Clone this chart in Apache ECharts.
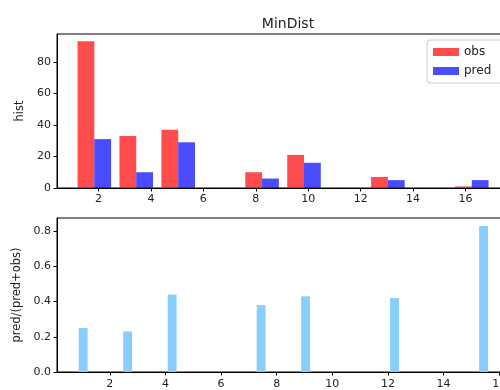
<!DOCTYPE html>
<html><head><meta charset="utf-8">
<script src="https://cdn.jsdelivr.net/npm/echarts@6/dist/echarts.min.js"></script>
<style>html,body{margin:0;padding:0;background:#fff}#c{width:500px;height:390px}</style>
</head><body><div id="c"></div>
<script>
// Data
var binEdges = [1.04, 2.64, 4.24, 5.84, 7.44, 9.04, 10.64, 12.24, 13.84, 15.44];
var binWidth = 1.6;
var obsCounts = [93, 33, 37, 0, 10, 21, 0, 7, 0, 1];
var predCounts = [31, 10, 29, 0, 6, 16, 0, 5, 0, 5];
var ratioValues = [0.25, 0.23, 0.44, null, 0.38, 0.43, null, 0.42, null, 0.83];
var xTicks = [2, 4, 6, 8, 10, 12, 14, 16];
var histTicks = [0, 20, 40, 60, 80];
var ratioTicks = [0, 0.2, 0.4, 0.6, 0.8];

var obsData = [], predData = [], ratioData = [];
binEdges.forEach(function (e, i) {
  obsData.push([e + 0.1 * binWidth + 0.2 * binWidth, obsCounts[i]]);
  predData.push([e + 0.5 * binWidth + 0.2 * binWidth, predCounts[i]]);
  if (ratioValues[i] != null) ratioData.push([e, ratioValues[i]]);
});

var font = 'DejaVu Sans';
var txt = '#222';
function xAx(grid, min, max, margin) {
  return {
    type: 'value', gridIndex: grid, min: min, max: max,
    splitLine: { show: false },
    axisLine: { show: true, onZero: false, lineStyle: { color: '#000', width: 1 } },
    axisTick: { show: true, length: 3.5, customValues: xTicks, lineStyle: { color: '#000' } },
    axisLabel: { customValues: xTicks, fontFamily: font, fontSize: 11, color: txt, margin: margin }
  };
}
function yAx(grid, max, ticks, name, gap, fmt) {
  return {
    type: 'value', gridIndex: grid, min: 0, max: max,
    name: name, nameLocation: 'middle', nameRotate: 90, nameGap: gap,
    nameTextStyle: { fontFamily: font, fontSize: 11.5, color: txt },
    splitLine: { show: false },
    axisLine: { show: true, lineStyle: { color: '#000', width: 1 } },
    axisTick: { show: true, length: 3.5, customValues: ticks, lineStyle: { color: '#000' } },
    axisLabel: { customValues: ticks, fontFamily: font, fontSize: 11, color: txt, margin: 6, formatter: fmt }
  };
}

var chart = echarts.init(document.getElementById('c'), null, { renderer: 'canvas' });
chart.setOption({
  animation: false,
  backgroundColor: '#fff',
  title: {
    text: 'MinDist', left: 283, top: 12, textAlign: 'center',
    textStyle: { fontFamily: font, fontSize: 14, fontWeight: 'normal', color: txt }
  },
  legend: {
    orient: 'vertical', left: 427, top: 40,
    padding: [6, 16, 6, 6], itemGap: 7,
    itemWidth: 26, itemHeight: 8,
    borderColor: '#ccc', borderWidth: 1, borderRadius: 3,
    backgroundColor: 'rgba(255,255,255,0.8)',
    textStyle: { fontFamily: font, fontSize: 12, color: txt },
    data: [{ name: 'obs', icon: 'rect' }, { name: 'pred', icon: 'rect' }]
  },
  grid: [
    { left: 57, top: 34, width: 452, height: 154, show: true, borderColor: '#000', borderWidth: 1, outerBoundsMode: 'none' },
    { left: 57, top: 218, width: 450.5, height: 154, show: true, borderColor: '#000', borderWidth: 1, outerBoundsMode: 'none' }
  ],
  xAxis: [xAx(0, 0.416, 17.66, 6), xAx(1, 0.1, 16.3, 7)],
  yAxis: [
    yAx(0, 97.65, histTicks, 'hist', 31, function (v) { return String(v); }),
    yAx(1, 0.875, ratioTicks, 'pred/(pred+obs)', 34, function (v) { return v.toFixed(1); })
  ],
  series: [
    { name: 'obs', type: 'bar', xAxisIndex: 0, yAxisIndex: 0, data: obsData,
      barWidth: 16.8, barGap: '-100%', itemStyle: { color: 'rgba(255,0,0,0.7)' } },
    { name: 'pred', type: 'bar', xAxisIndex: 0, yAxisIndex: 0, data: predData,
      barWidth: 16.8, barGap: '-100%', itemStyle: { color: 'rgba(0,0,255,0.7)' } },
    { name: 'ratio', type: 'bar', xAxisIndex: 1, yAxisIndex: 1, data: ratioData,
      barWidth: 8.9, itemStyle: { color: '#87cefa' } }
  ]
});
</script></body></html>
